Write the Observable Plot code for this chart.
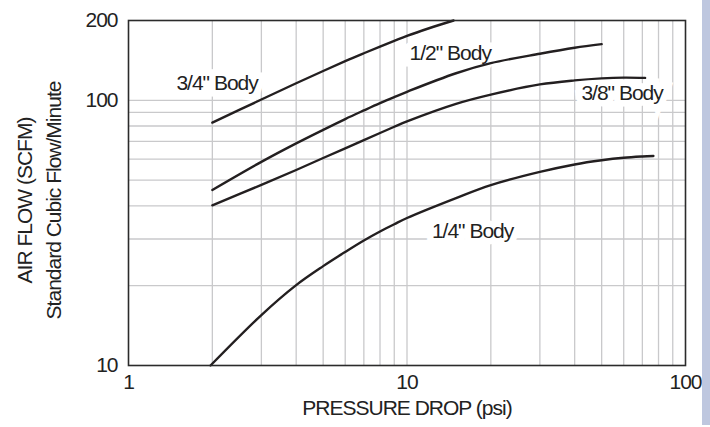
<!DOCTYPE html>
<html>
<head>
<meta charset="utf-8">
<script src="https://cdn.jsdelivr.net/npm/d3@7"></script>
<script src="https://cdn.jsdelivr.net/npm/@observablehq/plot@0.6"></script>
<style>
  html, body { margin: 0; padding: 0; background: #fff; }
  #wrap { position: relative; width: 710px; height: 427px; overflow: hidden; }
  #edge { position: absolute; left: 702px; top: 0; width: 8px; height: 425px; background: #bec7df; }
</style>
</head>
<body>
<div id="wrap"><div id="edge"></div></div>
<script>
// Air flow vs pressure drop for each valve body size (log-log)
const bodySizes = ['1/4" Body', '3/8" Body', '1/2" Body', '3/4" Body'];

const quarterPsi  = [1.97, 3, 4, 5, 6, 7, 8, 9, 10, 15, 20, 30, 40, 50, 60, 70, 76.7];
const quarterScfm = [10, 15.5, 20.1, 23.7, 26.8, 29.6, 32.0, 34.1, 36.0, 42.8, 47.9, 53.7, 57.3, 59.4, 60.7, 61.4, 61.7];

const threeEighthPsi  = [2, 3, 4, 5, 6, 7, 8, 9, 10, 15, 20, 30, 40, 50, 60, 71.6];
const threeEighthScfm = [40.2, 48.0, 54.6, 60.6, 65.9, 70.8, 75.3, 79.5, 83.3, 97, 105.1, 114.8, 118.9, 121.0, 121.8, 121.5];

const halfPsi  = [2, 3, 4, 5, 6, 7, 8, 9, 10, 15, 20, 30, 40, 50];
const halfScfm = [45.9, 58.6, 68.8, 77.4, 85.0, 91.6, 97.6, 102.9, 107.7, 126.5, 138.1, 149.9, 157.9, 162.9];

const threeQuarterPsi  = [2, 3, 4, 5, 6, 7, 8, 9, 10, 12, 14.7];
const threeQuarterScfm = [82.4, 100.7, 116, 129, 140.5, 150.5, 159.5, 167.5, 175, 187, 200];

// label anchors (psi, scfm) for each body size
const labelPsi  = [17.2, 59.2, 14.3, 2.08];
const labelScfm = [32.2, 106.2, 150.3, 115.9];

// axis ticks and grid
const xTicks = [1, 10, 100];
const yTicks = [10, 100, 200];
const xGrid = [2, 3, 4, 5, 6, 7, 8, 9, 10, 20, 30, 40, 50, 60, 70, 80, 90];
const yGrid = [20, 30, 40, 50, 60, 70, 80, 90, 100];

const series = [
  [quarterPsi, quarterScfm],
  [threeEighthPsi, threeEighthScfm],
  [halfPsi, halfScfm],
  [threeQuarterPsi, threeQuarterScfm]
];
const curves = series.flatMap(([xs, ys], i) =>
  xs.map((x, j) => ({body: bodySizes[i], psi: x, scfm: ys[j]})));
const labels = bodySizes.map((b, i) => ({body: b, psi: labelPsi[i], scfm: labelScfm[i]}));

// tall, tightly spaced lettering
const font = "'Liberation Sans', Arial, sans-serif";
const fs = 21;
const ink = "#231f20";
const textInk = "#222";

const chart = Plot.plot({
  width: 702,
  height: 427,
  marginLeft: 128,
  marginRight: 17,
  marginTop: 20,
  marginBottom: 62,
  style: {fontFamily: font, fontSize: fs + "px", letterSpacing: "-1px", color: textInk, background: "transparent"},
  x: {type: "log", domain: [1, 100], ticks: xTicks, tickFormat: d => String(d), tickSize: 0, tickPadding: 9, label: null},
  y: {type: "log", domain: [10, 200], ticks: yTicks, tickFormat: d => String(d), tickSize: 0, tickPadding: 11, label: null},
  marks: [
    Plot.ruleX(xGrid, {stroke: "#c9c9cb", strokeWidth: 1.3}),
    Plot.ruleY(yGrid, {stroke: "#c9c9cb", strokeWidth: 1.3}),
    // labels sit on a white patch that masks the grid behind them
    Plot.text(labels, {x: "psi", y: "scfm", text: "body", fill: textInk, stroke: "white", strokeWidth: 13, strokeLinejoin: "miter", fontSize: fs}),
    Plot.line(curves, {x: "psi", y: "scfm", z: "body", curve: "catmull-rom", stroke: ink, strokeWidth: 2.4}),
    Plot.frame({stroke: "#2b2b2b", strokeWidth: 1.6}),
    Plot.text(["PRESSURE DROP (psi)"], {frameAnchor: "bottom", lineAnchor: "top", dy: 35, fontSize: fs, fill: textInk}),
    Plot.text(["AIR FLOW (SCFM)"], {frameAnchor: "left", textAnchor: "middle", rotate: -90, dx: -103, dy: 7.5, fontSize: fs, fill: textInk}),
    Plot.text(["Standard Cubic Flow/Minute"], {frameAnchor: "left", textAnchor: "middle", rotate: -90, dx: -74, dy: 7.5, fontSize: fs, fill: textInk})
  ]
});
document.getElementById("wrap").prepend(chart);
</script>
</body>
</html>
